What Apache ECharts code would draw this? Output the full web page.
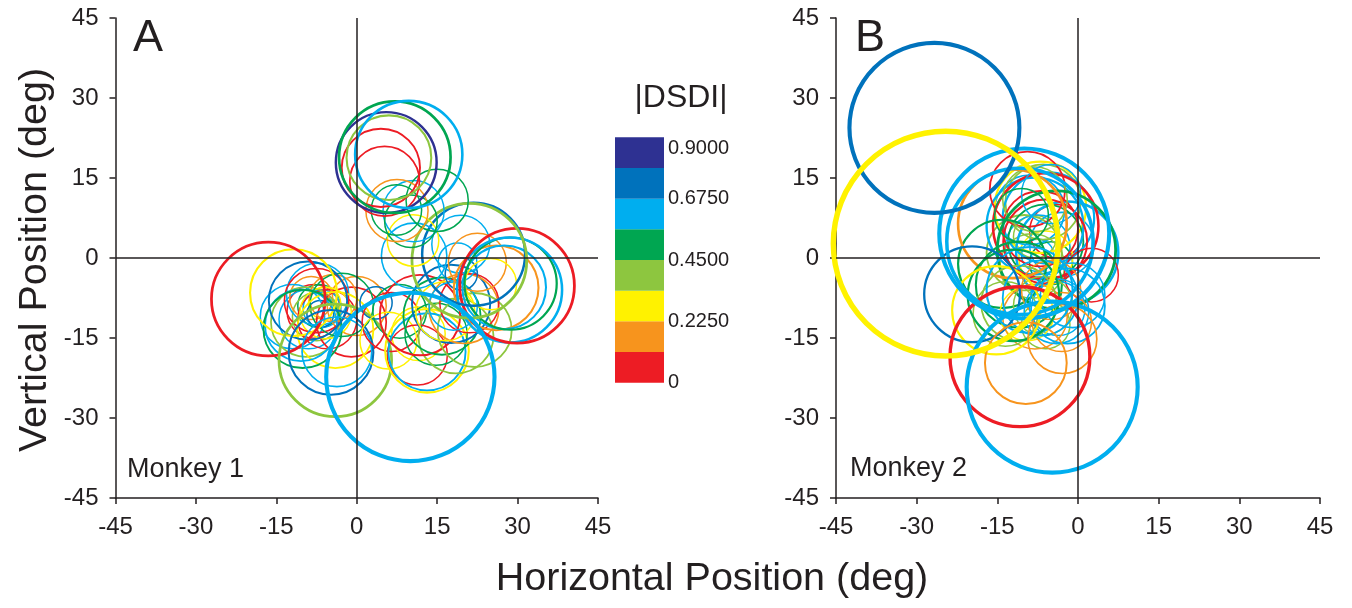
<!DOCTYPE html>
<html>
<head>
<meta charset="utf-8">
<script src="https://cdn.jsdelivr.net/npm/echarts@6/dist/echarts.min.js"></script>
<style>
  html, body { margin: 0; padding: 0; background: #fff; }
  #chart { width: 1352px; height: 608px; }
</style>
</head>
<body>
<div id="chart"></div>
<script>
// axis ticks (deg)
const axisTicks = [-45, -30, -15, 0, 15, 30, 45];

// |DSDI| colour bins
const binEdges = [0, 0.1125, 0.225, 0.3375, 0.45, 0.5625, 0.675, 0.7875, 0.9];
const binColors = ['#ED1C24', '#F7941D', '#FFF200', '#8DC63F', '#00A651', '#00AEEF', '#0072BC', '#2E3192'];
const barLabels = [0, 0.225, 0.45, 0.675, 0.9];

// receptive fields, monkey 1: [x, y, radius, |DSDI|]
const fieldsMonkey1 = [
  [-8.0, -10.0, 5.0, 0.05], [-7.0, -9.0, 4.0, 0.50], [-6.5, -9.5, 3.5, 0.62], [-7.5, -11.0, 4.5, 0.39],
  [-6.0, -8.5, 3.0, 0.28], [-9.0, -11.5, 5.5, 0.62], [-5.5, -11.5, 5.5, 0.05], [-8.5, -7.5, 4.0, 0.17],
  [-6.8, -10.5, 2.5, 0.73], [-12.0, -11.0, 6.0, 0.62], [-9.5, -12.0, 6.5, 0.39], [-1.0, -12.0, 6.5, 0.05],
  [0.0, -9.0, 5.5, 0.17], [-4.4, -7.5, 4.4, 0.17], [-5.8, -10.3, 4.8, 0.28], [-7.3, -6.8, 5.8, 0.62],
  [-7.5, -8.0, 6.0, 0.05], [-2.8, -8.8, 5.9, 0.50], [-4.0, -13.5, 7.1, 0.28], [-10.4, -12.6, 6.7, 0.62],
  [-10.1, -13.3, 7.3, 0.50], [-9.1, -8.0, 7.3, 0.73], [-11.8, -6.5, 8.1, 0.28], [-16.5, -7.7, 10.6, 0.05],
  [-3.7, -17.6, 6.5, 0.62], [-4.8, -17.7, 7.9, 0.73], [-4.0, -19.2, 10.5, 0.39],
  [3.6, -8.4, 3.0, 0.73], [6.5, -12.0, 5.5, 0.05], [8.0, -10.0, 5.0, 0.50], [5.9, -15.5, 5.3, 0.28],
  [11.5, -14.2, 5.0, 0.28], [11.3, -18.2, 5.6, 0.05], [13.1, -17.6, 7.2, 0.62], [13.1, -17.4, 7.8, 0.28],
  [14.8, -14.3, 5.8, 0.50], [18.5, -14.6, 7.0, 0.39], [11.8, -10.7, 7.5, 0.05], [15.9, -10.9, 7.2, 0.50],
  [17.6, -8.6, 7.3, 0.73], [22.0, -13.5, 6.9, 0.39], [20.0, -9.5, 6.5, 0.17], [16.5, -10.0, 5.5, 0.28],
  [21.0, -8.5, 5.5, 0.05], [18.0, -9.0, 4.5, 0.62],
  [18.8, -0.8, 3.6, 0.62], [19.5, -3.0, 3.0, 0.73], [19.4, 2.6, 5.4, 0.62], [22.5, -0.8, 5.4, 0.17],
  [25.0, -4.9, 4.8, 0.28], [26.0, -5.6, 7.9, 0.17], [27.5, -5.5, 7.8, 0.62], [28.7, -4.8, 8.6, 0.50],
  [28.5, -6.0, 9.8, 0.62], [29.9, -5.2, 10.7, 0.05], [21.8, 0.7, 9.6, 0.73], [21.0, -0.5, 10.7, 0.39],
  [10.7, 0.4, 6.1, 0.62], [10.5, 3.3, 4.8, 0.28], [10.6, 8.8, 5.7, 0.62], [15.0, 10.8, 5.8, 0.50],
  [10.1, 6.9, 4.9, 0.50], [7.4, 9.0, 4.7, 0.50], [7.5, 8.9, 5.8, 0.17],
  [5.2, 14.4, 6.5, 0.05], [4.5, 16.9, 7.3, 0.05], [6.0, 18.8, 7.9, 0.39], [5.5, 17.9, 9.4, 0.85],
  [7.1, 18.9, 10.4, 0.50], [9.7, 19.4, 10.0, 0.62],
  [10.0, -22.3, 15.7, 0.62]
];

// receptive fields, monkey 2: [x, y, radius, |DSDI|]
const fieldsMonkey2 = [
  [-7.5, 0.5, 3.0, 0.62], [-8.0, 4.0, 4.0, 0.39], [-5.0, -1.0, 4.0, 0.50], [-4.0, 5.0, 5.0, 0.05],
  [-6.0, 0.0, 5.0, 0.28], [-3.0, 2.5, 6.0, 0.62], [-7.5, 2.0, 6.0, 0.62], [-9.0, 9.0, 6.5, 0.62],
  [-6.5, 10.5, 7.0, 0.39], [-10.0, 1.0, 7.0, 0.39], [-8.5, -1.5, 6.0, 0.39], [-7.0, 9.5, 8.5, 0.28],
  [-6.0, 3.0, 7.0, 0.50], [-5.5, 7.5, 8.5, 0.62], [-8.0, 6.0, 9.0, 0.62], [-2.0, 1.0, 9.5, 0.62],
  [-7.0, 5.5, 7.0, 0.05], [-6.1, 3.1, 7.8, 0.05], [-9.4, 12.9, 7.0, 0.05], [-6.0, 6.0, 9.8, 0.05],
  [-8.0, 11.0, 6.0, 0.39], [-5.0, 12.0, 5.5, 0.62], [-10.5, 8.0, 5.0, 0.50],
  [2.5, -3.2, 5.0, 0.05], [-4.0, 1.5, 11.0, 0.50], [-14.1, -1.1, 8.2, 0.50], [-11.0, -5.0, 8.0, 0.50],
  [-12.2, 6.4, 10.1, 0.17],
  [-6.0, -12.5, 4.5, 0.39], [-3.7, -9.5, 5.0, 0.62], [-9.5, -10.5, 5.0, 0.28], [-6.5, -9.0, 5.5, 0.39],
  [-5.0, -6.0, 5.5, 0.17], [-3.0, -12.0, 5.5, 0.17], [-8.0, -11.0, 6.0, 0.17], [-4.0, -10.0, 6.0, 0.62],
  [-1.0, -7.0, 6.0, 0.62], [-13.5, -10.5, 6.0, 0.39], [-2.0, -9.0, 7.0, 0.62], [-11.0, -8.5, 7.0, 0.39],
  [-7.0, -7.5, 7.0, 0.62], [-9.0, -6.0, 8.0, 0.62], [-12.0, -7.0, 8.5, 0.50],
  [-15.2, -9.8, 8.2, 0.28], [-19.7, -6.8, 8.9, 0.73], [-2.9, -15.2, 6.4, 0.17], [-9.7, -19.7, 7.6, 0.17],
  [-10.8, -18.5, 13.0, 0.05], [-4.8, -24.2, 15.9, 0.62],
  [-10.8, 3.1, 13.6, 0.62], [-10.0, 4.6, 15.8, 0.62],
  [-26.7, 24.4, 15.8, 0.73], [-24.6, 2.7, 20.9, 0.28]
];

const font = 'Liberation Sans, Arial, sans-serif';
const ink = '#231F20';

const chart = echarts.init(document.getElementById('chart'));

const binOf = (v) => {
  for (let i = binColors.length - 1; i >= 0; i--) {
    if (v >= binEdges[i]) return i;
  }
  return 0;
};

// one circle per field, sized through the axis scale
const renderField = (params, api) => {
  const c = api.coord([api.value(0), api.value(1)]);
  const r = api.size([api.value(2), 0])[0];
  return {
    type: 'circle',
    shape: { cx: c[0], cy: c[1], r: r },
    style: {
      fill: 'none',
      stroke: binColors[binOf(api.value(3))],
      lineWidth: Math.max(1.5, api.value(2) * 0.26)
    }
  };
};

const posAxis = (grid, horizontal) => ({
  type: 'value',
  gridIndex: grid,
  min: axisTicks[0],
  max: axisTicks[axisTicks.length - 1],
  interval: 15,
  axisLine: { show: true, onZero: false, lineStyle: { color: ink, width: 1.5 } },
  axisTick: { show: true, inside: false, length: 6, lineStyle: { color: ink, width: 1.5 } },
  axisLabel: {
    color: ink, fontSize: 24, fontFamily: font,
    margin: horizontal ? 17 : 17,
    showMinLabel: true, showMaxLabel: true
  },
  splitLine: { show: false }
});

const crossLines = {
  silent: true,
  symbol: 'none',
  label: { show: false },
  lineStyle: { color: ink, width: 1.5, type: 'solid' },
  data: [{ xAxis: 0 }, { yAxis: 0 }]
};

const barSeries = binColors.map((col, i) => ({
  type: 'bar',
  xAxisIndex: 2,
  yAxisIndex: 2,
  stack: 'bar',
  barWidth: '100%',
  silent: true,
  itemStyle: { color: col },
  data: [binEdges[i + 1] - binEdges[i]]
}));

const option = {
  animation: false,
  grid: [
    { left: 115.5, top: 18, width: 482.5, height: 480, outerBoundsMode: 'none' },
    { left: 836, top: 18, width: 484, height: 480, outerBoundsMode: 'none' },
    { left: 615, top: 137.3, width: 49, height: 245.4, outerBoundsMode: 'none' }
  ],
  xAxis: [
    posAxis(0, true),
    posAxis(1, true),
    { type: 'category', gridIndex: 2, data: [''], show: false }
  ],
  yAxis: [
    posAxis(0, false),
    posAxis(1, false),
    {
      type: 'value', gridIndex: 2, position: 'right',
      min: barLabels[0], max: barLabels[barLabels.length - 1], interval: 0.225,
      axisLine: { show: false }, axisTick: { show: false }, splitLine: { show: false },
      axisLabel: {
        color: ink, fontSize: 20, fontFamily: font, margin: 4,
        showMinLabel: true, showMaxLabel: true,
        formatter: (v) => v === 0 ? '0' : (v >= 0.9 ? '{top|' + v.toFixed(4) + '}' : v.toFixed(4)),
        rich: { top: { fontSize: 20, fontFamily: font, color: ink, padding: [22, 0, 0, 0] } }
      }
    }
  ],
  series: [
    {
      type: 'custom', xAxisIndex: 0, yAxisIndex: 0, clip: false, silent: true,
      renderItem: renderField, data: fieldsMonkey1, markLine: crossLines, z: 3
    },
    {
      type: 'custom', xAxisIndex: 1, yAxisIndex: 1, clip: false, silent: true,
      renderItem: renderField, data: fieldsMonkey2, markLine: crossLines, z: 3
    },
    ...barSeries
  ],
  graphic: [
    { type: 'text', x: 148, y: 39, style: { text: 'A', fontSize: 45, fontFamily: font, fill: ink, align: 'center', verticalAlign: 'middle' } },
    { type: 'text', x: 870, y: 39, style: { text: 'B', fontSize: 45, fontFamily: font, fill: ink, align: 'center', verticalAlign: 'middle' } },
    { type: 'text', x: 127, y: 470, style: { text: 'Monkey 1', fontSize: 27, fontFamily: font, fill: ink, align: 'left', verticalAlign: 'middle' } },
    { type: 'text', x: 850, y: 469, style: { text: 'Monkey 2', fontSize: 27, fontFamily: font, fill: ink, align: 'left', verticalAlign: 'middle' } },
    { type: 'text', x: 681, y: 98, style: { text: '|DSDI|', fontSize: 32, fontFamily: font, fill: ink, align: 'center', verticalAlign: 'middle' } },
    { type: 'text', x: 712, y: 579, style: { text: 'Horizontal Position (deg)', fontSize: 39.5, fontFamily: font, fill: ink, align: 'center', verticalAlign: 'middle' } },
    { type: 'text', x: 35, y: 260, rotation: Math.PI / 2, style: { text: 'Vertical Position (deg)', fontSize: 39.5, fontFamily: font, fill: ink, align: 'center', verticalAlign: 'middle' } }
  ]
};

chart.setOption(option);
</script>
</body>
</html>
